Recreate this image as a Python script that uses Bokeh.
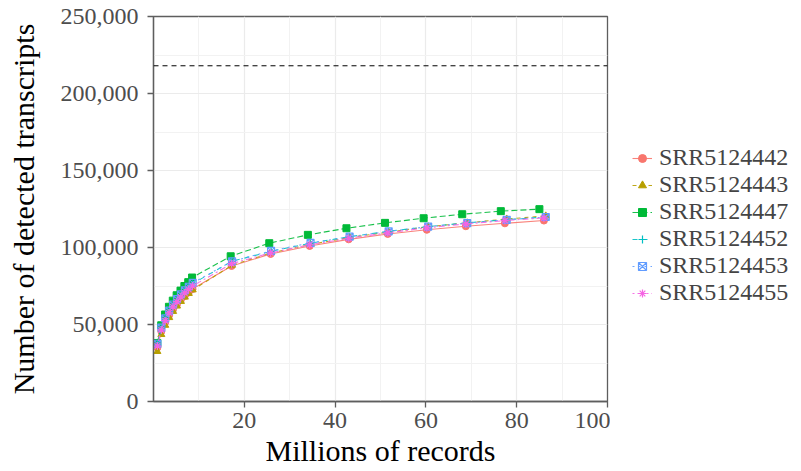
from bokeh.plotting import figure
from bokeh.layouts import row
from bokeh.models import Range1d, FixedTicker, NumeralTickFormatter, Span, Legend, LegendItem
from bokeh.embed import file_html
from bokeh.resources import INLINE

samples = ["SRR5124442", "SRR5124443", "SRR5124447", "SRR5124452", "SRR5124453", "SRR5124455"]

x_442 = [0.86, 1.72, 2.58, 3.44, 4.30, 5.16, 6.02, 6.88, 7.74, 8.60, 17.2, 25.8, 34.4, 43.0, 51.6, 60.2, 68.8, 77.4, 86.0]
y_442 = [35000, 45500, 51500, 56000, 59800, 63000, 66000, 68500, 70800, 73000, 88000, 95800, 101000, 105300, 108800, 111500, 113800, 115700, 117500]

x_443 = [0.86, 1.73, 2.59, 3.46, 4.32, 5.18, 6.05, 6.91, 7.78, 8.64, 17.3, 25.9, 34.6, 43.2, 51.8, 60.5, 69.1, 77.8, 86.4]
y_443 = [32500, 43500, 49500, 54500, 58500, 62000, 65000, 67800, 70200, 72500, 88500, 96500, 102000, 106500, 110000, 113500, 116000, 118500, 120500]

x_447 = [0.85, 1.70, 2.55, 3.40, 4.25, 5.10, 5.95, 6.80, 7.65, 8.50, 17.0, 25.5, 34.0, 42.5, 51.0, 59.5, 68.0, 76.5, 85.0]
y_447 = [38000, 49500, 56500, 61500, 65500, 69000, 72000, 75000, 77500, 80500, 94300, 102800, 108200, 112500, 116000, 119000, 121600, 123600, 124900]

x_452 = [0.86, 1.72, 2.59, 3.45, 4.31, 5.17, 6.03, 6.90, 7.76, 8.62, 17.2, 25.9, 34.5, 43.1, 51.7, 60.3, 69.0, 77.6, 86.2]
y_452 = [37000, 47500, 53500, 58500, 62500, 66000, 69000, 71700, 74000, 76500, 91000, 97500, 102800, 107000, 110500, 113500, 116000, 118000, 119800]

x_453 = [0.86, 1.73, 2.59, 3.46, 4.32, 5.18, 6.05, 6.91, 7.78, 8.64, 17.3, 25.9, 34.6, 43.2, 51.8, 60.5, 69.1, 77.8, 86.4]
y_453 = [37500, 48000, 54000, 59000, 63000, 66500, 69500, 72200, 74500, 77000, 91000, 97800, 103000, 107000, 110500, 113500, 115800, 118000, 119800]

x_455 = [0.86, 1.72, 2.58, 3.44, 4.30, 5.16, 6.02, 6.88, 7.74, 8.60, 17.2, 25.8, 34.4, 43.0, 51.6, 60.2, 68.8, 77.4, 86.0]
y_455 = [36000, 46500, 52500, 57500, 61500, 64800, 67800, 70500, 72800, 75000, 89500, 96500, 101800, 106000, 109500, 112800, 115300, 117500, 119200]

reference_total = 218000

x_ticks = [20, 40, 60, 80, 100]
x_minor = [10, 30, 50, 70, 90]
y_ticks = [0, 50000, 100000, 150000, 200000, 250000]
y_minor = [25000, 75000, 125000, 175000, 225000]

xs = [x_442, x_443, x_447, x_452, x_453, x_455]
ys = [y_442, y_443, y_447, y_452, y_453, y_455]
colors = ["#F8766D", "#B79F00", "#00BA38", "#00BFC4", "#619CFF", "#F564E3"]
markers = ["circle", "triangle", "square", "cross", "square_x", "asterisk"]
filled = [True, True, True, False, False, False]
dashes = ["solid", "4 4", "6 3", "5 5", "2 4", "2 3 6 3"]

FONT = "Liberation Serif"
H = 470

p = figure(width=610, height=H, output_backend="svg", toolbar_location=None,
           x_range=Range1d(0, 100), y_range=Range1d(0, 250000),
           min_border_left=153, min_border_right=3, min_border_top=16, min_border_bottom=69,
           background_fill_color="white", border_fill_color="white")

p.outline_line_color = "#5e5e5e"
p.outline_line_width = 1.3

p.xaxis.ticker = FixedTicker(ticks=x_ticks, minor_ticks=x_minor)
p.yaxis.ticker = FixedTicker(ticks=y_ticks, minor_ticks=y_minor)
p.yaxis.formatter = NumeralTickFormatter(format="0,0")

for ax in (p.xaxis[0], p.yaxis[0]):
    ax.axis_line_color = "#5e5e5e"
    ax.axis_line_width = 1.3
    ax.major_tick_line_color = "#5e5e5e"
    ax.major_tick_line_width = 1.3
    ax.major_tick_out = 6
    ax.major_tick_in = 0
    ax.minor_tick_line_color = None
    ax.major_label_text_font = FONT
    ax.major_label_text_font_size = "24px"
    ax.major_label_text_color = "#4d4d4d"
    ax.axis_label_text_font = FONT
    ax.axis_label_text_font_size = "30px"
    ax.axis_label_text_font_style = "normal"
    ax.axis_label_text_color = "black"

p.xaxis.axis_label = "Millions of records"
p.yaxis.axis_label = "Number of detected transcripts"
p.xaxis.major_label_standoff = 5
p.xaxis.axis_label_standoff = 3
p.yaxis.major_label_standoff = 9
p.yaxis.axis_label_standoff = 18

for g in (p.xgrid[0], p.ygrid[0]):
    g.grid_line_color = "#ebebeb"
    g.grid_line_width = 1.2
    g.minor_grid_line_color = "#f2f2f2"
    g.minor_grid_line_width = 1

p.add_layout(Span(location=reference_total, dimension="width", line_color="black",
                  line_width=1, line_dash="5 4"))

# legend panel: an axis-free figure whose (off-range, clipped) proxy renderers carry the styles
lf = figure(width=190, height=H, output_backend="svg", toolbar_location=None,
            x_axis_type=None, y_axis_type=None, x_range=Range1d(-2, -1), y_range=Range1d(-2, -1),
            min_border_left=0, min_border_right=0, min_border_top=0, min_border_bottom=0,
            background_fill_color="white", border_fill_color="white")
lf.outline_line_color = None
lf.xgrid.visible = False
lf.ygrid.visible = False

items = []
for name, x, y, c, m, f, d in zip(samples, xs, ys, colors, markers, filled, dashes):
    kw = dict(marker=m, size=7 if m != "asterisk" else 8, line_color=c,
              fill_color=c if f else None, line_width=1.2 if not f else 1)
    p.line(x, y, line_color=c, line_width=1.1, line_dash=d, line_alpha=0.9)
    p.scatter(x, y, **kw)
    ln = lf.line(x, y, line_color=c, line_width=1.1, line_dash=d, line_alpha=0.9)
    sc = lf.scatter(x, y, **kw)
    items.append(LegendItem(label=name, renderers=[ln, sc], index=0))

legend = Legend(items=items, location=(22, 95), border_line_color=None,
                background_fill_alpha=0, label_text_font=FONT,
                label_text_font_size="24px", glyph_width=20, glyph_height=20,
                label_standoff=7, spacing=-9, padding=4, margin=0, label_height=20)
lf.add_layout(legend, "center")

layout = row(p, lf)
open("out.html", "w").write(file_html(layout, INLINE))
